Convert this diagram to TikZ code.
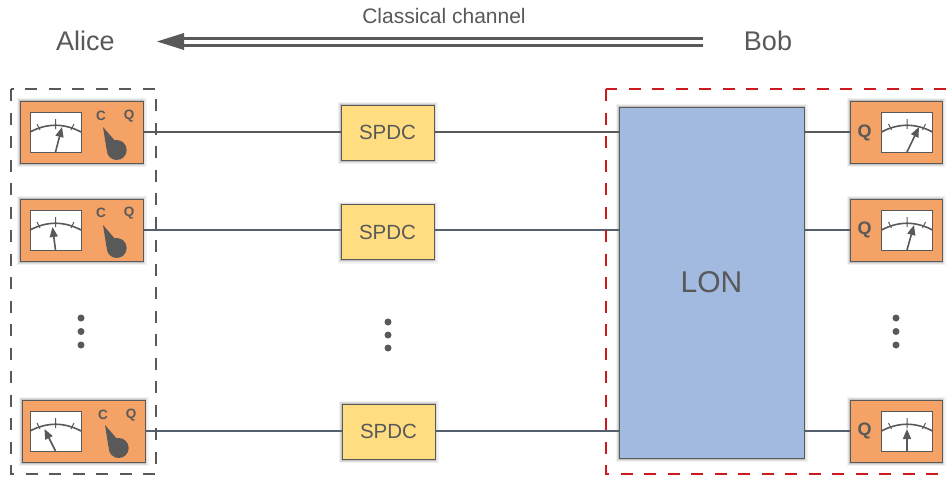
\documentclass[tikz,border=0pt]{standalone}
\usepackage{fontspec}
\setmainfont{Liberation Sans}
\usetikzlibrary{arrows.meta}
\definecolor{ink}{HTML}{595959}
\definecolor{orangebox}{HTML}{F4A265}
\definecolor{yellowbox}{HTML}{FFDD80}
\definecolor{lonblue}{HTML}{A2B9E0}
\definecolor{redd}{HTML}{CC1A1F}
\definecolor{wire}{HTML}{55606F}
\tikzset{
 x=1pt,y=-1pt,
 softshadow/.style={
  preaction={draw=black,draw opacity=.05,line width=7pt,transform canvas={yshift=-.5pt}},
  preaction={draw=black,draw opacity=.08,line width=4.5pt,transform canvas={yshift=-.5pt}},
  preaction={draw=black,draw opacity=.12,line width=2.5pt,transform canvas={yshift=-.5pt}}},
 meterbox/.style={draw=ink,line width=1pt,fill=orangebox,softshadow,minimum width=#1,minimum height=62pt,inner sep=0pt,outer sep=0pt},
 spdcbox/.style={draw=ink,line width=.9pt,fill=yellowbox,softshadow,minimum width=93pt,minimum height=55pt,inner sep=0pt,outer sep=0pt,text=ink,font=\fontsize{20.5pt}{22pt}\selectfont},
 lonbox/.style={draw=ink,line width=1pt,fill=lonblue,softshadow,minimum width=185pt,minimum height=351pt,inner sep=0pt,outer sep=0pt,text=ink,font=\fontsize{30pt}{32pt}\selectfont},
 wireline/.style={draw=wire,line width=1.6pt},
 wiregray/.style={draw=ink,line width=1.6pt},
 labeltext/.style={text=ink,inner sep=0pt,font=\fontsize{27pt}{28pt}\selectfont},
 gatedash/.style={line width=1.4pt,dash pattern=on 12pt off 11.5pt},
 ellipsisdot/.style={circle,fill=ink,minimum size=7pt,inner sep=0pt},
 dialletter/.style={text=ink,inner sep=0pt,font=\fontsize{13.5pt}{14pt}\selectfont\bfseries},
 bigletter/.style={text=ink,inner sep=0pt,font=\fontsize{18pt}{19pt}\selectfont\bfseries},
}
\newcommand{\dial}[4]{%
 \begin{scope}[shift={(#1,#2)}]
  \draw[draw=ink,line width=1pt,fill=white] (0,0) rectangle (51,40);
  \draw[ink,line width=1.6pt] (0,20) .. controls (17,11) and (34,11) .. (51,20);
  \draw[ink,line width=1pt] (25.5,7) -- (25.5,17) (7,12) -- (10,18) (44,12) -- (41,18);
  \draw[ink,line width=1.6pt,-{Triangle[length=10pt,width=8pt]}] (25.5,40) -- (25.5+#3,#4);
 \end{scope}}
\newcommand{\knob}[2]{%
 \fill[ink] (#1,#2) -- (#1+13,#2+15) -- (#1+3.5,#2+22) -- cycle;
 \fill[ink] (#1+13.7,#2+23) circle (10);}
\begin{document}
\begin{tikzpicture}
\useasboundingbox (0,0) rectangle (948,479);
\fill[white] (0,0) rectangle (948,479);
\node[labeltext] (alice) at (85.5,41) {Alice};
\node[labeltext] (bob) at (768,41) {Bob};
\node[text=ink,inner sep=0pt,font=\fontsize{21pt}{23pt}\selectfont] (cc) at (444,15.5) {Classical channel};
\coordinate (ccstart) at (703,41.5);
\coordinate (ccend) at (184,41.5);
\coordinate (cctip) at (157,41.5);
\draw[ink,line width=3pt] ([yshift=3.5pt]ccstart) -- ([yshift=3.5pt]ccend);
\draw[ink,line width=3pt] ([yshift=-3.5pt]ccstart) -- ([yshift=-3.5pt]ccend);
\fill[ink] (cctip) -- (184,33) -- (184,50) -- cycle;
\node[meterbox=123pt] (a1) at (81.5,132) {};
\node[meterbox=123pt] (a2) at (81.5,230) {};
\node[meterbox=123pt] (a3) at (83.5,431) {};
\node[meterbox=92pt] (b1) at (896,132) {};
\node[meterbox=92pt] (b2) at (896,230) {};
\node[meterbox=92pt] (b3) at (896,431) {};
\node[spdcbox] (s1) at (387.5,132.5) {SPDC};
\node[spdcbox] (s2) at (387.5,232) {SPDC};
\node[spdcbox] (s3) at (388.5,431.5) {SPDC};
\node[lonbox] (lon) at (711.5,282.5) {LON};
% wires
\draw[wiregray] (a1.east) -- (a1.east -| s1.west);
\draw[wireline] (a2.east) -- (a2.east -| s2.west);
\draw[wireline] (a3.east) -- (a3.east -| s3.west);
\draw[wiregray] (a1.east -| s1.east) -- (a1.east -| lon.west);
\draw[wireline] (a2.east -| s2.east) -- (a2.east -| lon.west);
\draw[wireline] (a3.east -| s3.east) -- (a3.east -| lon.west);
\draw[wiregray] (b1.west) -- (b1.west -| lon.east);
\draw[wireline] (b2.west) -- (b2.west -| lon.east);
\draw[wireline] (b3.west) -- (b3.west -| lon.east);
\draw[gatedash,ink] (11,89) rectangle (156,474);
\draw[gatedash,redd] (606,89) rectangle (955,474);
\dial{30}{112}{6.5}{15}
\dial{30}{210}{-3}{17}
\dial{30}{411}{-11}{18}
\dial{881.5}{112}{12}{15}
\dial{881.5}{210}{7}{15}
\dial{881.5}{411}{0}{18}
\knob{103}{127}
\knob{103}{225}
\knob{105}{425}
\node[dialletter] (ca1) at (101,116) {C};
\node[dialletter] (qa1) at (129,116) {Q};
\node[dialletter] (ca2) at (101,213) {C};
\node[dialletter] (qa2) at (129,213) {Q};
\node[dialletter] (ca3) at (103,415) {C};
\node[dialletter] (qa3) at (131,415) {Q};
\node[bigletter] (qb1) at (864.5,133) {Q};
\node[bigletter] (qb2) at (864.5,230) {Q};
\node[bigletter] (qb3) at (864.5,431) {Q};
\foreach \n/\xx/\yy in {d1/81/318,d2/81/331.5,d3/81/345,d4/388/322,d5/388/335,d6/388/348,d7/896/318,d8/896/331.5,d9/896/345}
 \node[ellipsisdot] (\n) at (\xx,\yy) {};
\end{tikzpicture}
\end{document}
